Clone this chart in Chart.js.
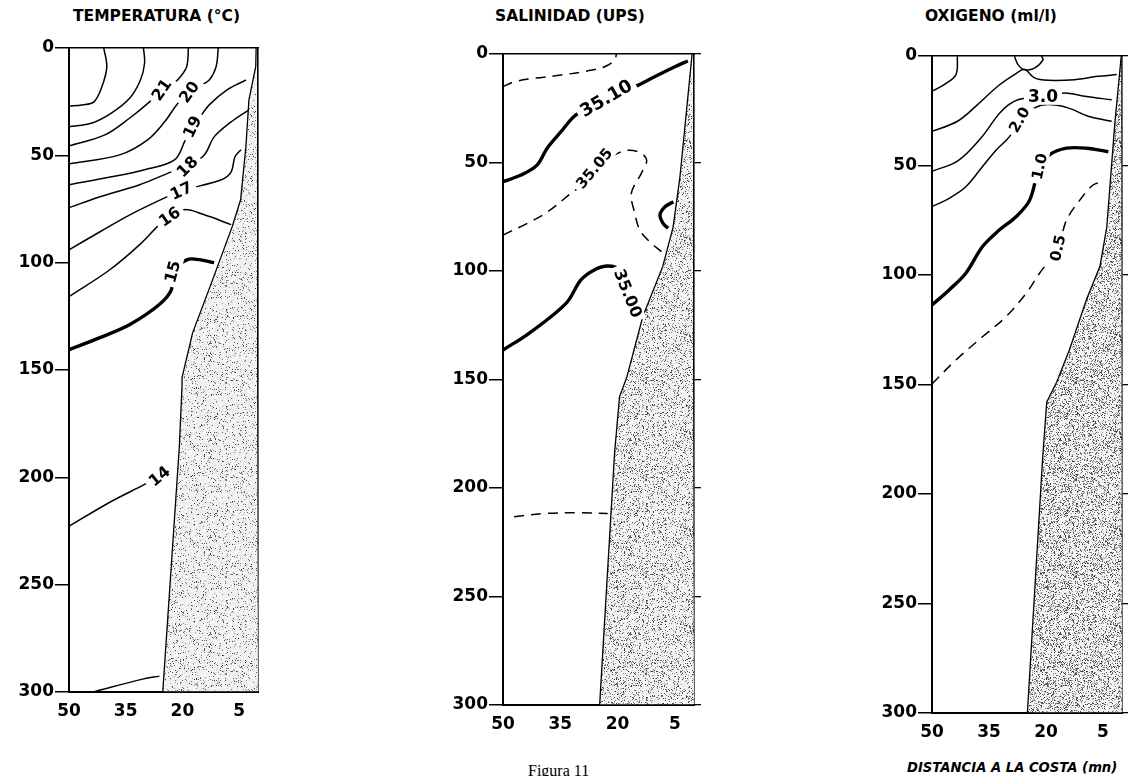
<!DOCTYPE html>
<html>
<head>
<meta charset="utf-8">
<script src="https://cdn.jsdelivr.net/npm/chart.js@4.4.0/dist/chart.umd.min.js"></script>
<style>
  body { margin: 0; background: #fff; width: 1128px; height: 776px; overflow: hidden; position: relative; }
  canvas { position: absolute; top: 0; }
  .titulo { position: absolute; top: 7px; font: bold 15.5px "DejaVu Sans", sans-serif; color: #000; white-space: nowrap; }
  .figura { position: absolute; left: 528px; top: 762px; font: 16px "Liberation Serif", serif; color: #000; }
  .eje { position: absolute; left: 907px; top: 760px; font: italic bold 13.2px "DejaVu Sans", sans-serif; color: #000; white-space: nowrap; }
</style>
</head>
<body>
<div class="titulo" style="left:73px">TEMPERATURA (°C)</div>
<div class="titulo" style="left:495px">SALINIDAD (UPS)</div>
<div class="titulo" style="left:925px">OXIGENO (ml/l)</div>
<canvas id="tempChart" width="280" height="740" style="left:0px"></canvas>
<canvas id="salChart" width="290" height="750" style="left:420px"></canvas>
<canvas id="oxiChart" width="278" height="760" style="left:850px"></canvas>
<div class="figura">Figura 11</div>
<div class="eje">DISTANCIA A LA COSTA (mn)</div>

<script>
// ejes
const xTicks = [50, 35, 20, 5];
const depthTicks = [0, 50, 100, 150, 200, 250, 300];

// temperatura: isotermas [distancia (mn), profundidad (m)]
const tempTop = [[40.8, 0], [40.0, 8.8], [41.3, 18.1], [43.4, 25.1], [46.6, 26.5], [50, 27]];
const tempB = [[30.3, 0], [30.0, 7.0], [31.1, 14.9], [33.9, 23.3], [38.7, 30.2], [43.9, 34.9], [50, 36.7]];
const temp21 = [[18.4, 0], [18.9, 8.8], [21.3, 14.9], [23.4, 17.7], [25.5, 19.5], [28.7, 25.1], [33.9, 32.6], [40.5, 40.5], [50, 45.6]];
const temp20 = [[10.5, 0], [11.1, 8.8], [12.9, 14.9], [15.5, 17.7], [18.2, 20.5], [21.3, 26], [24.7, 34.4], [29.2, 42.8], [36.6, 49.8], [50, 54]];
const temp19 = [[3.2, 14.9], [8.2, 19.5], [12.9, 26.5], [15.5, 32.6], [17.4, 36.7], [19.2, 42.8], [22.1, 52.1], [30, 56.7], [38.7, 60], [50, 63.7]];
const temp18 = [[2.4, 28.8], [7.1, 34.4], [11.6, 41.4], [14.2, 49.8], [18.7, 55.3], [22.9, 57.7], [31.3, 63.7], [41.8, 69.3], [50, 74.4]];
const temp17 = [[4.5, 47.4], [6.1, 50.7], [7.1, 57.7], [9.7, 61.4], [20.3, 66.5], [24.7, 69.8], [33.9, 77.7], [41.8, 85.6], [50, 94]];
const temp16 = [[7.1, 82.3], [14.2, 77.7], [19.5, 75.3], [23.4, 78.6], [26.1, 82.3], [31.3, 91.6], [39.2, 103.3], [50, 115.8]];
const temp15 = [[11.6, 100], [15.5, 98.6], [18.7, 98.6], [22.6, 104.2], [22.9, 112.6], [26.1, 119.5], [33.9, 128.8], [41.8, 134.9], [50, 140.5]];
const temp14 = [[50, 222.8], [39.2, 211.6], [30, 203.3], [26.1, 199.5], [22.9, 196.7]];
const temp13 = [[43.7, 300], [30.5, 294], [26.1, 292.6]];
const tempShelf = [[0.5, 0], [0.6, 8.7], [2.4, 24.2], [3.2, 45.9], [4.6, 70.7], [6.8, 83.1], [12, 107.9], [17.3, 132.7], [20.1, 153.5], [20.1, 157.5], [20.8, 185.4], [25.2, 300], [0, 300]];
const tempLabels = [['21', 25.5, 19.5, -55, 16], ['20', 18.2, 20.5, -55, 16], ['19', 17.4, 36.7, -65, 16], ['18', 18.7, 55.3, -45, 16],
  ['17', 20.3, 66.5, -25, 16], ['16', 23.4, 78.6, -35, 16], ['15', 22.6, 104.2, -75, 16], ['14', 26.1, 199.5, -40, 16]];

// salinidad
const sal3515 = [[50, 15.1], [47.1, 12.8], [41.8, 11.2], [34.8, 9.7], [27.9, 7.8], [23.4, 5.9], [20.8, 2.8], [20.3, 0]];
const sal3510 = [[50, 58.8], [45.3, 55.8], [41.1, 51.2], [38.4, 43.3], [34.8, 35.8], [30.9, 28.1], [23, 20.4], [15.5, 15.1], [10.3, 10.5], [5, 5.9], [1.6, 3.2]];
const sal3505 = [[50, 83.4], [43.6, 78], [38.3, 72.7], [32.2, 64.2], [28.7, 59.6], [26.1, 52.7], [19, 45], [14.7, 45], [12.4, 48.8], [13.8, 55], [16.4, 64.2], [15.5, 73.4], [14.2, 81.1], [11.6, 86.5], [8.5, 91.1]];
const salLoop = [[5.4, 68.1], [7.6, 70.4], [8.9, 74.2], [8.1, 78], [6.8, 80.3]];
const sal3500 = [[50, 136.4], [43.2, 128.7], [33.5, 114.9], [29.6, 104.1], [26.1, 99.5], [22.6, 97.7], [19.5, 99.5], [17.3, 110.3], [14.7, 119.5], [13.3, 121.8]];
const sal3500b = [[47.1, 213.2], [38.8, 211.7], [30, 211.4], [22.6, 211.7]];
const salShelf = [[0.5, 0], [3.7, 57], [5.5, 80], [8.2, 98], [13.4, 121], [17.6, 149], [19.5, 158], [20.8, 184], [24.7, 300], [0, 300]];
const salLabels = [['35.10', 23, 20.4, -30, 18], ['35.05', 26.1, 52.7, -50, 15], ['35.00', 17.3, 110.3, 68, 16]];

// oxigeno
const oxiTop = [[43.3, 0], [43.7, 8.5], [46.8, 13.1], [50, 16.1]];
const oxiBump = [[28.3, 0], [27.4, 3.8], [25.7, 6.2], [23, 5.5], [20.8, 1.8], [21.2, 0]];
const oxi35 = [[50, 34.4], [43.3, 29.8], [38, 22.2], [32.7, 13.8], [28.3, 8.5], [25.7, 6.2], [23, 10], [19.5, 11.1], [12.4, 10.8], [6.3, 9.3], [1.4, 8.5]];
const oxi30 = [[50, 52.6], [43.3, 48], [37.1, 37.4], [31.8, 25.3], [27.4, 20], [20.8, 18.4], [15.1, 16.9], [9.8, 18.4], [2.7, 20]];
const oxi20 = [[50, 68.8], [45.5, 65], [41.1, 59.7], [36.7, 50.5], [33.1, 42.9], [29.6, 36.8], [27, 29.1], [23, 23.7], [19.5, 22.2], [14.2, 23.7], [8.9, 27.5], [2.7, 29.8]];
const oxi10 = [[50, 113.7], [45.5, 106.8], [41.1, 99.2], [36.7, 87], [32.3, 79.5], [27.9, 73.4], [24.3, 65.8], [21.7, 50.5], [19.2, 45.2], [14.6, 42.1], [9.3, 42.1], [3.6, 43.7]];
const oxi05 = [[50, 149.8], [43.7, 138.8], [36.7, 128.2], [30.5, 119], [25.2, 108.3], [21.7, 99.2], [16.9, 87.7], [14.6, 74.9], [11.1, 65.8], [7.6, 58.9], [4.9, 57.4]];
const oxiShelf = [[0.2, 0], [1.9, 31], [4, 78], [5.8, 96], [9.3, 111], [13.8, 134], [17.2, 149], [19.8, 158], [20.9, 184], [24.9, 300], [0, 300]];
const oxiLabels = [['3.0', 20.8, 18.4, 0, 17], ['2.0', 27, 29.1, -60, 15], ['1.0', 21.7, 50.5, -78, 15], ['0.5', 16.9, 87.7, -78, 15]];

Chart.defaults.font.family = '"DejaVu Sans", sans-serif';
Chart.defaults.color = '#000';

const pts = arr => arr.map(([x, y]) => ({ x, y }));

// punteado del fondo marino
function stipple(density) {
  const c = document.createElement('canvas');
  c.width = 97; c.height = 97;
  const g = c.getContext('2d');
  const img = g.createImageData(97, 97);
  for (let j = 0; j < 97; j++) {
    for (let i = 0; i < 97; i++) {
      let h = Math.imul(i, 374761393) + Math.imul(j, 668265263);
      h = Math.imul(h ^ (h >>> 13), 1274126177);
      h ^= h >>> 16;
      const r = (h >>> 0) / 4294967296;
      const v = r < density ? 50 + Math.floor(r / density * 120) : 225 + Math.floor(r * 30);
      const k = (j * 97 + i) * 4;
      img.data[k] = img.data[k + 1] = img.data[k + 2] = Math.min(v, 255);
      img.data[k + 3] = 255;
    }
  }
  g.putImageData(img, 0, 0);
  return g.createPattern(c, 'repeat');
}

function linea(arr, tipo) {
  return {
    data: pts(arr),
    showLine: true,
    borderColor: '#000',
    borderWidth: tipo === 'grueso' ? 3.4 : 1.5,
    borderDash: tipo === 'guion' ? [10, 7] : [],
    pointRadius: 0,
    tension: 0.35,
    fill: false
  };
}

const contourLabels = {
  id: 'contourLabels',
  afterDatasetsDraw(chart, args, opts) {
    const { ctx } = chart;
    const sx = chart.scales.x, sy = chart.scales.y;
    (opts.items || []).forEach(([text, dx, dy, ang, size]) => {
      const fs = size || 14;
      ctx.save();
      ctx.translate(sx.getPixelForValue(dx), sy.getPixelForValue(dy));
      ctx.rotate(ang * Math.PI / 180);
      ctx.font = `bold ${fs}px "DejaVu Sans"`;
      const w = ctx.measureText(text).width;
      ctx.fillStyle = '#fff';
      ctx.fillRect(-w / 2 - 4, -fs / 2, w + 8, fs);
      ctx.fillStyle = '#000';
      ctx.textAlign = 'center';
      ctx.textBaseline = 'middle';
      ctx.fillText(text, 0, 1);
      ctx.restore();
    });
  }
};

function renderPanel(id, lines, shelf, density, labels, box) {
  const ctx = document.getElementById(id);
  const datasets = [{
    data: pts(shelf),
    showLine: true,
    borderColor: '#000',
    borderWidth: 1.3,
    backgroundColor: stipple(density),
    fill: 'shape',
    pointRadius: 0,
    tension: 0
  }].concat(lines.map(([arr, tipo]) => linea(arr, tipo)));

  const tickFont = { size: 17, weight: 'bold' };
  return new Chart(ctx, {
    type: 'scatter',
    data: { datasets },
    options: {
      responsive: false,
      animation: false,
      devicePixelRatio: 1,
      layout: { padding: { top: box.top, left: 0, right: 0, bottom: 0 } },
      plugins: {
        legend: { display: false },
        tooltip: { enabled: false },
        contourLabels: { items: labels }
      },
      scales: {
        x: {
          type: 'linear', position: 'bottom', min: 0, max: 50, reverse: true,
          afterBuildTicks: s => { s.ticks = xTicks.map(v => ({ value: v })); },
          afterFit: s => { s.height = box.bottom; },
          grid: { display: false },
          border: { display: true, color: '#000', width: 2 },
          ticks: { font: tickFont, padding: 1, maxRotation: 0, autoSkip: false }
        },
        xTop: {
          type: 'linear', position: 'top', min: 0, max: 50, reverse: true,
          afterFit: s => { s.height = 0; },
          grid: { display: false },
          border: { display: true, color: '#000', width: 1.6 },
          ticks: { display: false }
        },
        y: {
          type: 'linear', position: 'left', min: 0, max: 300, reverse: true,
          afterBuildTicks: s => { s.ticks = depthTicks.map(v => ({ value: v })); },
          afterFit: s => { s.width = box.left; },
          grid: { display: true, drawOnChartArea: false, tickLength: 14, color: '#000', lineWidth: 1.5 },
          border: { display: true, color: '#000', width: 2 },
          ticks: { font: tickFont, padding: 1, autoSkip: false }
        },
        yRight: {
          type: 'linear', position: 'right', min: 0, max: 300, reverse: true,
          afterBuildTicks: s => { s.ticks = depthTicks.map(v => ({ value: v })); },
          afterFit: s => { s.width = box.right; },
          grid: { display: box.rightTicks, drawOnChartArea: false, tickLength: 7, color: '#000', lineWidth: 1.3 },
          border: { display: true, color: '#000', width: 1.6 },
          ticks: { display: false }
        }
      }
    },
    plugins: [contourLabels]
  });
}

renderPanel('tempChart', [
  [tempTop], [tempB], [temp21], [temp20], [temp19], [temp18], [temp17], [temp16],
  [temp15, 'grueso'], [temp14], [temp13]
], tempShelf, 0.10, tempLabels, { top: 48, bottom: 48, left: 69, right: 22, rightTicks: false });

renderPanel('salChart', [
  [sal3515, 'guion'], [sal3510, 'grueso'], [sal3505, 'guion'], [salLoop, 'grueso'],
  [sal3500, 'grueso'], [sal3500b, 'guion']
], salShelf, 0.19, salLabels, { top: 54, bottom: 45, left: 83, right: 16, rightTicks: true });

renderPanel('oxiChart', [
  [oxiTop], [oxiBump], [oxi35], [oxi30], [oxi20], [oxi10, 'grueso'], [oxi05, 'guion']
], oxiShelf, 0.28, oxiLabels, { top: 56, bottom: 47, left: 82, right: 6, rightTicks: true });
</script>
</body>
</html>
